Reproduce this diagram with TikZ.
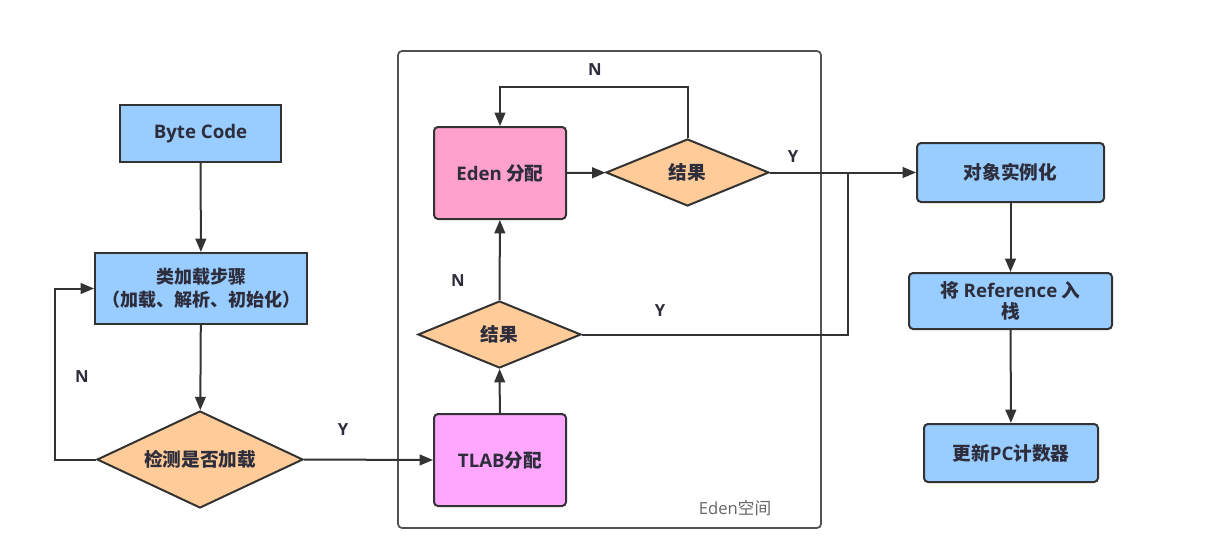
\documentclass[tikz,border=0pt]{standalone}
\usepackage{fontspec}
\setmainfont{Noto Sans CJK SC}
\newfontfamily\latf{Open Sans}
\usetikzlibrary{shapes.geometric,arrows.meta}
\definecolor{bluef}{RGB}{153,204,255}
\definecolor{orangef}{RGB}{255,204,153}
\definecolor{pinkf}{RGB}{255,160,205}
\definecolor{violetf}{RGB}{255,166,255}
\definecolor{edge}{RGB}{51,51,51}
\definecolor{txt}{RGB}{45,45,60}
\newcommand\pxu{0.75pt}
\tikzset{
  base/.style={draw=edge, line width=1.5pt, text=txt, font=\bfseries\fontsize{14}{17}\selectfont, align=center, inner sep=0pt},
  sqbox/.style={base, rectangle, fill=bluef},
  rbox/.style={base, rectangle, rounded corners=3pt, fill=bluef},
  edenn/.style={base, rectangle, rounded corners=3pt, fill=pinkf},
  tlabn/.style={base, rectangle, rounded corners=3pt, fill=violetf},
  dec/.style={base, diamond, fill=orangef},
  arr/.style={draw=edge, line width=1.5pt, -{Triangle[length=10pt,width=8pt]}},
  ln/.style={draw=edge, line width=1.5pt},
  lbl/.style={text=txt, font=\latf\bfseries\fontsize{12.5}{14}\selectfont, inner sep=0pt},
}
\begin{document}
\begin{tikzpicture}[x=0.75pt,y=-0.75pt]
\useasboundingbox[fill=white] (0,0) rectangle (1226,543);
% Eden container
\node[draw=edge!85, line width=1.3pt, rounded corners=3pt, minimum width=423*\pxu, minimum height=477*\pxu, inner sep=0pt] (edenbox) at (609.5,289.5) {};
\node[text=black!60, font=\fontsize{12.5}{14}\selectfont, inner sep=0pt] (edenlbl) at (735,508) {{\latf Eden}空间};
% left column
\node[sqbox, minimum width=161*\pxu, minimum height=57*\pxu] (bc) at (200.5,133.5) {\latf Byte Code};
\node[sqbox, minimum width=212*\pxu, minimum height=71*\pxu, font=\bfseries\fontsize{13.5}{17}\selectfont] (cl) at (201,288.5) {类加载步骤\\（加载、解析、初始化）};
\node[dec, shape aspect=2.1, minimum width=206*\pxu, minimum height=97*\pxu] (chk) at (200,459.5) {检测是否加载};
% Eden column
\node[tlabn, minimum width=132*\pxu, minimum height=92*\pxu] (tlab) at (500,460) {{\latf TLAB}分配};
\node[dec, shape aspect=2.4, minimum width=163*\pxu, minimum height=67*\pxu] (r2) at (499.5,334.5) {结果};
\node[edenn, minimum width=132*\pxu, minimum height=92*\pxu] (eden) at (500,173) {{\latf Eden} 分配};
\node[dec, shape aspect=2.4, minimum width=163*\pxu, minimum height=67*\pxu] (r1) at (687.5,172.5) {结果};
% right column
\node[rbox, minimum width=187*\pxu, minimum height=59*\pxu] (obj) at (1010.5,172.5) {对象实例化};
\node[rbox, minimum width=203*\pxu, minimum height=56*\pxu, font=\bfseries\fontsize{14}{16}\selectfont] (ref) at (1010.5,301) {将 {\latf Reference} 入\\栈};
\node[rbox, minimum width=174*\pxu, minimum height=58*\pxu] (pc) at (1011,453) {更新{\latf PC}计数器};
% helper coordinates
\coordinate (nl) at (55,459.5);
\coordinate (ntop) at (687.5,87);
\coordinate (jn) at (848,172.5);
% connectors
\draw[arr] (bc) -- (cl);
\draw[arr] (cl) -- (chk);
\draw[arr] (chk.west) -- (nl) |- (cl.west);
\draw[arr] (chk.east) -- (tlab.west);
\draw[arr] (tlab) -- (r2);
\draw[arr] (r2) -- (eden);
\draw[arr] (eden) -- (r1);
\draw[arr] (r1.north) -- (ntop) -| (eden.north);
\draw[arr] (r1.east) -- (obj.west);
\draw[ln] (r2.east) -| (jn);
\draw[arr] (obj) -- (ref);
\draw[arr] (ref) -- (pc);
% labels
\node[lbl] (lN1) at (82,377) {N};
\node[lbl] (lY1) at (343,430) {Y};
\node[lbl] (lN2) at (595,70) {N};
\node[lbl] (lY2) at (793,157) {Y};
\node[lbl] (lN3) at (458,281) {N};
\node[lbl] (lY3) at (660,311) {Y};
\end{tikzpicture}
\end{document}
